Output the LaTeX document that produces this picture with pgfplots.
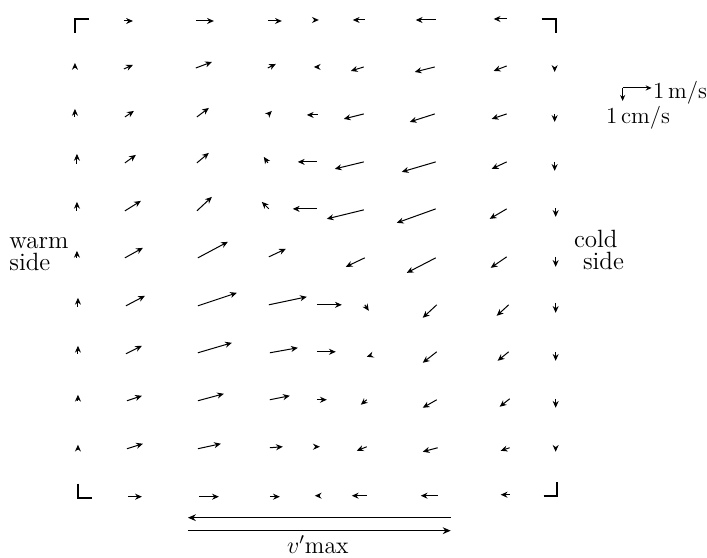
\documentclass[border=0pt]{standalone}
\usepackage{pgfplots}
\pgfplotsset{compat=1.18}
\usetikzlibrary{arrows.meta}
\begin{document}
\begin{tikzpicture}
\begin{axis}[x=0.5pt, y=0.5pt, xmin=0, xmax=707, ymin=-558, ymax=0,
  hide axis, clip=false]
\path (axis cs:0,-558) rectangle (axis cs:707,0);
% velocity field: tail x, tail y (image px, y negated), u (px), v (px, up positive)
\addplot[black, line width=0.5pt, -{Stealth[length=3.4pt,width=3pt]},
  quiver={u=\thisrow{u}, v=\thisrow{v}}] table {
x y u v
124 -21 9 0
196 -21 18 0
268 -21 14 0
316 -20 3 0
365 -20 -12 0
436 -20 -20 0
507 -19 -13 0
75 -68 0 5
124 -69 9 4
196 -68 16 6
268 -68 8 4
317 -67 -3 0
364 -67 -13 -4
435 -67 -20 -5
507 -66 -13 -5
555 -67 0 -5
75 -117 0 8
125 -117 9 6
197 -117 12 9
268 -115 4 4
318 -115 -11 0
364 -114 -20 -5
435 -114 -25 -8
507 -114 -15 -5
555 -114 0 -8
77 -164 0 10
125 -163 11 8
197 -163 12 10
268 -163 -4 6
317 -162 -19 0
364 -162 -29 -7
436 -162 -34 -10
507 -162 -15 -7
555 -162 0 -9
77 -211 0 9
125 -211 16 10
197 -211 15 14
269 -209 -7 7
317 -209 -24 0
364 -210 -37 -9
436 -209 -39 -14
507 -209 -17 -10
556 -208 0 -9
77 -258 0 7
125 -258 18 10
198 -258 30 16
269 -257 17 8
365 -258 -19 -9
436 -258 -29 -15
507 -257 -16 -11
556 -257 0 -10
78 -307 0 9
126 -306 19 10
198 -306 39 13
269 -305 38 8
317 -305 25 0
365 -305 4 -6
437 -305 -14 -13
509 -305 -12 -11
556 -303 0 -10
78 -354 0 8
126 -354 16 8
198 -353 34 10
270 -353 28 5
317 -352 19 0
370 -356 -3 -1
437 -352 -14 -11
509 -352 -11 -9
556 -352 0 -9
78 -401 0 6
127 -401 15 5
198 -401 26 7
270 -400 20 4
317 -400 10 0
367 -400 -6 -5
437 -400 -14 -8
510 -399 -10 -8
556 -399 0 -9
78 -450 0 5
127 -449 16 5
198 -449 23 5
270 -448 13 1
318 -447 2 0
367 -447 -10 -4
438 -448 -15 -4
510 -448 -9 -3
556 -447 0 -5
128 -497 14 0
199 -497 20 0
270 -497 10 0
320 -496 -5 0
367 -496 -15 0
438 -496 -17 0
510 -495 -9 0
};
% corner marks
\addplot[black, line width=1.1pt] coordinates {(75,-33) (75,-19) (89,-19)};
\addplot[black, line width=1.1pt] coordinates {(542,-19) (556,-19) (556,-33)};
\addplot[black, line width=1.1pt] coordinates {(78,-484) (78,-498) (92,-498)};
\addplot[black, line width=1.1pt] coordinates {(544,-496) (557,-496) (557,-482)};
% v'max arrows
\addplot[black, line width=0.55pt, -{Stealth[length=4pt,width=3.4pt]}] coordinates {(451,-518) (188,-518)};
\addplot[black, line width=0.55pt, -{Stealth[length=4pt,width=3.4pt]}] coordinates {(188,-531) (451,-531)};
% scale legend
\addplot[black, line width=0.5pt, -{Stealth[length=3pt,width=2.6pt]}] coordinates {(623,-88) (652,-88)};
\addplot[black, line width=0.5pt, -{Stealth[length=3pt,width=2.6pt]}] coordinates {(623,-88) (623,-101)};
\end{axis}
\begin{scope}[x=0.5pt, y=0.5pt, font=\fontsize{12.5}{14}\selectfont]
\node[anchor=base west, inner sep=0pt] at (9,558-249) {warm};
\node[anchor=base west, inner sep=0pt] at (9,558-271) {side};
\node[anchor=base west, inner sep=0pt] at (574,558-248) {cold};
\node[anchor=base west, inner sep=0pt] at (583,558-270) {side};
\node[anchor=base west, inner sep=0pt, font=\fontsize{11.5}{13}\selectfont] at (653,558-99) {1\,m/s};
\node[anchor=base west, inner sep=0pt, font=\fontsize{11.5}{13}\selectfont] at (606,558-124) {1\,cm/s};
\node[anchor=base, inner sep=0pt, font=\fontsize{12}{13}\selectfont] at (318,558-554) {$v'\mathrm{max}$};
\end{scope}
\end{tikzpicture}
\end{document}
